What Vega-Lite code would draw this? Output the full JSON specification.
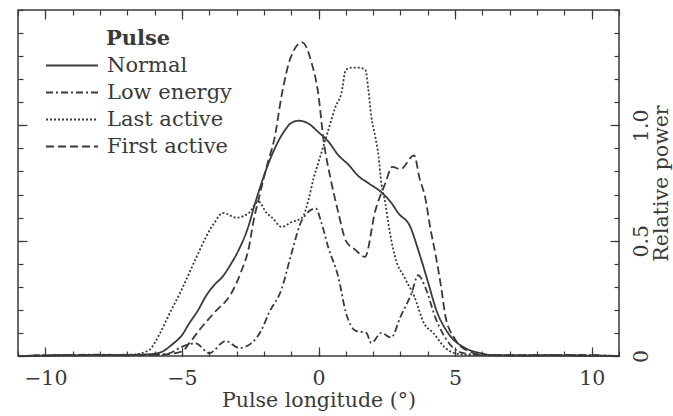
{
  "$schema": "https://vega.github.io/schema/vega-lite/v6.json",
  "width": 601,
  "height": 346,
  "autosize": {"type": "none"},
  "padding": {"left": 18, "top": 10, "right": 54, "bottom": 60},
  "background": "white",
  "config": {
    "view": {"stroke": "#3a3a3a", "strokeWidth": 1.5},
    "font": "DejaVu Serif",
    "axis": {
      "labelFont": "DejaVu Serif", "titleFont": "DejaVu Serif",
      "labelFontSize": 20.5, "titleFontSize": 20.5,
      "labelColor": "#3a3a3a", "titleColor": "#3a3a3a",
      "tickColor": "#3a3a3a", "tickWidth": 1.2,
      "grid": false, "domain": false, "titleFontWeight": "normal"
    },
    "legend": {
      "labelFont": "DejaVu Serif", "titleFont": "DejaVu Serif",
      "labelFontSize": 21, "titleFontSize": 21,
      "labelColor": "#3a3a3a", "titleColor": "#3a3a3a"
    }
  },
  "data": {"values": [
    {"pulse": "Normal", "x": -11, "y": 0},
    {"pulse": "Normal", "x": -9, "y": 0.003},
    {"pulse": "Normal", "x": -7.5, "y": 0.004},
    {"pulse": "Normal", "x": -6.5, "y": 0.006},
    {"pulse": "Normal", "x": -6.0, "y": 0.01},
    {"pulse": "Normal", "x": -5.7, "y": 0.02},
    {"pulse": "Normal", "x": -5.36, "y": 0.05},
    {"pulse": "Normal", "x": -5.0, "y": 0.09},
    {"pulse": "Normal", "x": -4.74, "y": 0.14},
    {"pulse": "Normal", "x": -4.4, "y": 0.2},
    {"pulse": "Normal", "x": -4.12, "y": 0.26},
    {"pulse": "Normal", "x": -3.8, "y": 0.31},
    {"pulse": "Normal", "x": -3.54, "y": 0.34},
    {"pulse": "Normal", "x": -3.2, "y": 0.4},
    {"pulse": "Normal", "x": -2.92, "y": 0.46},
    {"pulse": "Normal", "x": -2.6, "y": 0.55},
    {"pulse": "Normal", "x": -2.3, "y": 0.67},
    {"pulse": "Normal", "x": -2.0, "y": 0.78},
    {"pulse": "Normal", "x": -1.6, "y": 0.9},
    {"pulse": "Normal", "x": -1.28, "y": 0.97},
    {"pulse": "Normal", "x": -1.0, "y": 1.01},
    {"pulse": "Normal", "x": -0.73, "y": 1.02},
    {"pulse": "Normal", "x": -0.4, "y": 1.01},
    {"pulse": "Normal", "x": 0, "y": 0.97},
    {"pulse": "Normal", "x": 0.36, "y": 0.93},
    {"pulse": "Normal", "x": 0.73, "y": 0.87},
    {"pulse": "Normal", "x": 1.09, "y": 0.83},
    {"pulse": "Normal", "x": 1.46, "y": 0.78},
    {"pulse": "Normal", "x": 1.82, "y": 0.75},
    {"pulse": "Normal", "x": 2.3, "y": 0.71},
    {"pulse": "Normal", "x": 2.66, "y": 0.665},
    {"pulse": "Normal", "x": 2.92, "y": 0.62},
    {"pulse": "Normal", "x": 3.36, "y": 0.56},
    {"pulse": "Normal", "x": 3.65, "y": 0.46},
    {"pulse": "Normal", "x": 4.01, "y": 0.32},
    {"pulse": "Normal", "x": 4.31, "y": 0.2},
    {"pulse": "Normal", "x": 4.74, "y": 0.1},
    {"pulse": "Normal", "x": 5.36, "y": 0.035},
    {"pulse": "Normal", "x": 5.95, "y": 0.012},
    {"pulse": "Normal", "x": 6.4, "y": 0.003},
    {"pulse": "Normal", "x": 8, "y": 0.002},
    {"pulse": "Normal", "x": 11, "y": 0},

    {"pulse": "Low energy", "x": -11, "y": 0},
    {"pulse": "Low energy", "x": -9.5, "y": 0.004},
    {"pulse": "Low energy", "x": -8, "y": 0.006},
    {"pulse": "Low energy", "x": -7, "y": 0.003},
    {"pulse": "Low energy", "x": -6, "y": 0.005},
    {"pulse": "Low energy", "x": -5.5, "y": 0.01},
    {"pulse": "Low energy", "x": -5.0, "y": 0.04},
    {"pulse": "Low energy", "x": -4.5, "y": 0.055},
    {"pulse": "Low energy", "x": -4.0, "y": 0.012},
    {"pulse": "Low energy", "x": -3.4, "y": 0.065},
    {"pulse": "Low energy", "x": -2.9, "y": 0.035},
    {"pulse": "Low energy", "x": -2.45, "y": 0.056},
    {"pulse": "Low energy", "x": -2.1, "y": 0.11},
    {"pulse": "Low energy", "x": -1.8, "y": 0.19},
    {"pulse": "Low energy", "x": -1.35, "y": 0.29},
    {"pulse": "Low energy", "x": -1.0, "y": 0.44},
    {"pulse": "Low energy", "x": -0.6, "y": 0.59},
    {"pulse": "Low energy", "x": -0.1, "y": 0.64},
    {"pulse": "Low energy", "x": 0.1, "y": 0.58},
    {"pulse": "Low energy", "x": 0.36, "y": 0.47},
    {"pulse": "Low energy", "x": 0.73, "y": 0.34},
    {"pulse": "Low energy", "x": 1.0, "y": 0.19},
    {"pulse": "Low energy", "x": 1.35, "y": 0.11},
    {"pulse": "Low energy", "x": 1.75, "y": 0.1},
    {"pulse": "Low energy", "x": 1.93, "y": 0.056},
    {"pulse": "Low energy", "x": 2.3, "y": 0.1},
    {"pulse": "Low energy", "x": 2.66, "y": 0.08},
    {"pulse": "Low energy", "x": 3.0, "y": 0.17},
    {"pulse": "Low energy", "x": 3.4, "y": 0.27},
    {"pulse": "Low energy", "x": 3.65, "y": 0.35},
    {"pulse": "Low energy", "x": 3.9, "y": 0.3},
    {"pulse": "Low energy", "x": 4.3, "y": 0.16},
    {"pulse": "Low energy", "x": 4.75, "y": 0.06},
    {"pulse": "Low energy", "x": 5.3, "y": 0.012},
    {"pulse": "Low energy", "x": 6, "y": 0.004},
    {"pulse": "Low energy", "x": 7.5, "y": 0.003},
    {"pulse": "Low energy", "x": 9, "y": 0.005},
    {"pulse": "Low energy", "x": 11, "y": 0},

    {"pulse": "Last active", "x": -11, "y": 0},
    {"pulse": "Last active", "x": -9, "y": 0.003},
    {"pulse": "Last active", "x": -7.5, "y": 0.005},
    {"pulse": "Last active", "x": -6.8, "y": 0.006},
    {"pulse": "Last active", "x": -6.2, "y": 0.026},
    {"pulse": "Last active", "x": -5.84, "y": 0.09},
    {"pulse": "Last active", "x": -5.47, "y": 0.18},
    {"pulse": "Last active", "x": -5.0, "y": 0.29},
    {"pulse": "Last active", "x": -4.5, "y": 0.42},
    {"pulse": "Last active", "x": -4.1, "y": 0.52},
    {"pulse": "Last active", "x": -3.8, "y": 0.58},
    {"pulse": "Last active", "x": -3.5, "y": 0.62},
    {"pulse": "Last active", "x": -3.0, "y": 0.6},
    {"pulse": "Last active", "x": -2.55, "y": 0.62},
    {"pulse": "Last active", "x": -2.2, "y": 0.67},
    {"pulse": "Last active", "x": -1.9, "y": 0.62},
    {"pulse": "Last active", "x": -1.7, "y": 0.6},
    {"pulse": "Last active", "x": -1.35, "y": 0.56},
    {"pulse": "Last active", "x": -1.0, "y": 0.58},
    {"pulse": "Last active", "x": -0.6, "y": 0.6},
    {"pulse": "Last active", "x": -0.36, "y": 0.68},
    {"pulse": "Last active", "x": -0.18, "y": 0.77},
    {"pulse": "Last active", "x": 0, "y": 0.84},
    {"pulse": "Last active", "x": 0.36, "y": 0.98},
    {"pulse": "Last active", "x": 0.62, "y": 1.08},
    {"pulse": "Last active", "x": 0.84, "y": 1.14},
    {"pulse": "Last active", "x": 1.0, "y": 1.24},
    {"pulse": "Last active", "x": 1.2, "y": 1.25},
    {"pulse": "Last active", "x": 1.46, "y": 1.25},
    {"pulse": "Last active", "x": 1.72, "y": 1.24},
    {"pulse": "Last active", "x": 1.82, "y": 1.16},
    {"pulse": "Last active", "x": 1.93, "y": 1.04},
    {"pulse": "Last active", "x": 2.08, "y": 0.95},
    {"pulse": "Last active", "x": 2.2, "y": 0.865},
    {"pulse": "Last active", "x": 2.3, "y": 0.75},
    {"pulse": "Last active", "x": 2.45, "y": 0.66},
    {"pulse": "Last active", "x": 2.55, "y": 0.58},
    {"pulse": "Last active", "x": 2.8, "y": 0.43},
    {"pulse": "Last active", "x": 3.15, "y": 0.34},
    {"pulse": "Last active", "x": 3.5, "y": 0.26},
    {"pulse": "Last active", "x": 3.87, "y": 0.14},
    {"pulse": "Last active", "x": 4.2, "y": 0.1},
    {"pulse": "Last active", "x": 4.6, "y": 0.04},
    {"pulse": "Last active", "x": 4.96, "y": 0.013},
    {"pulse": "Last active", "x": 5.5, "y": 0.004},
    {"pulse": "Last active", "x": 7, "y": 0.003},
    {"pulse": "Last active", "x": 9, "y": 0.004},
    {"pulse": "Last active", "x": 11, "y": 0},

    {"pulse": "First active", "x": -11, "y": 0},
    {"pulse": "First active", "x": -9, "y": 0.004},
    {"pulse": "First active", "x": -7.5, "y": 0.003},
    {"pulse": "First active", "x": -6.5, "y": 0.004},
    {"pulse": "First active", "x": -6, "y": 0.004},
    {"pulse": "First active", "x": -5.5, "y": 0.008},
    {"pulse": "First active", "x": -5.0, "y": 0.02},
    {"pulse": "First active", "x": -4.7, "y": 0.06},
    {"pulse": "First active", "x": -4.38, "y": 0.11},
    {"pulse": "First active", "x": -3.8, "y": 0.19},
    {"pulse": "First active", "x": -3.2, "y": 0.27},
    {"pulse": "First active", "x": -2.85, "y": 0.36},
    {"pulse": "First active", "x": -2.55, "y": 0.47},
    {"pulse": "First active", "x": -2.37, "y": 0.59},
    {"pulse": "First active", "x": -2.19, "y": 0.68},
    {"pulse": "First active", "x": -1.9, "y": 0.82},
    {"pulse": "First active", "x": -1.6, "y": 0.95},
    {"pulse": "First active", "x": -1.35, "y": 1.13},
    {"pulse": "First active", "x": -1.0, "y": 1.3},
    {"pulse": "First active", "x": -0.6, "y": 1.36},
    {"pulse": "First active", "x": -0.25, "y": 1.27},
    {"pulse": "First active", "x": 0, "y": 1.13},
    {"pulse": "First active", "x": 0.18, "y": 0.94},
    {"pulse": "First active", "x": 0.44, "y": 0.77},
    {"pulse": "First active", "x": 0.73, "y": 0.62},
    {"pulse": "First active", "x": 1.0, "y": 0.5},
    {"pulse": "First active", "x": 1.35, "y": 0.46},
    {"pulse": "First active", "x": 1.7, "y": 0.43},
    {"pulse": "First active", "x": 2.08, "y": 0.63},
    {"pulse": "First active", "x": 2.45, "y": 0.75},
    {"pulse": "First active", "x": 2.7, "y": 0.82},
    {"pulse": "First active", "x": 3.0, "y": 0.81},
    {"pulse": "First active", "x": 3.5, "y": 0.87},
    {"pulse": "First active", "x": 3.7, "y": 0.77},
    {"pulse": "First active", "x": 3.9, "y": 0.69},
    {"pulse": "First active", "x": 4.1, "y": 0.55},
    {"pulse": "First active", "x": 4.3, "y": 0.43},
    {"pulse": "First active", "x": 4.5, "y": 0.29},
    {"pulse": "First active", "x": 4.65, "y": 0.17},
    {"pulse": "First active", "x": 4.96, "y": 0.08},
    {"pulse": "First active", "x": 5.4, "y": 0.026},
    {"pulse": "First active", "x": 6.0, "y": 0.006},
    {"pulse": "First active", "x": 7.5, "y": 0.003},
    {"pulse": "First active", "x": 9, "y": 0.004},
    {"pulse": "First active", "x": 11, "y": 0}
  ]},
  "layer": [
    {
      "mark": {"type": "line", "interpolate": "monotone", "strokeWidth": 1.8, "color": "#3a3a3a"},
      "encoding": {
        "x": {"field": "x", "type": "quantitative", "scale": {"domain": [-11, 11], "nice": false},
          "axis": {"orient": "bottom", "values": [-10, -5, 0, 5, 10], "tickSize": -9, "labelPadding": 37,
            "labelBaseline": "alphabetic", "title": "Pulse longitude (°)", "titleX": 300.5, "titleY": 50,
            "titleBaseline": "alphabetic", "titleAlign": "center"}},
        "y": {"field": "y", "type": "quantitative", "scale": {"domain": [0, 1.5], "nice": false},
          "axis": {"orient": "right", "values": [0, 0.5, 1], "tickSize": -9, "labelPadding": 37,
            "labelAngle": 270, "labelAlign": "center", "labelBaseline": "alphabetic",
            "labelExpr": "datum.value == 0 ? '0' : format(datum.value, '.1f')",
            "title": "Relative power", "titleAngle": 270, "titleX": 48, "titleY": 173,
            "titleBaseline": "alphabetic", "titleAlign": "center"}},
        "strokeDash": {"field": "pulse", "type": "nominal",
          "scale": {"domain": ["Normal", "Low energy", "Last active", "First active"],
            "range": [[1, 0], [7, 3, 2, 3], [2, 2], [8, 4]]},
          "legend": {"orient": "none", "legendX": 27, "legendY": 18, "title": "Pulse",
            "titleFontWeight": "bold", "titleAnchor": "middle", "titlePadding": 3,
            "symbolType": "stroke", "symbolSize": 2704, "symbolStrokeWidth": 1.8,
            "symbolStrokeColor": "#3a3a3a", "clipHeight": 27, "rowPadding": 0, "labelOffset": 8}}
      }
    },
    {
      "mark": {"type": "point", "opacity": 0},
      "encoding": {
        "x": {"field": "x", "type": "quantitative",
          "axis": {"orient": "bottom", "values": [-11,-10,-9,-8,-7,-6,-5,-4,-3,-2,-1,0,1,2,3,4,5,6,7,8,9,10,11], "tickSize": -5, "labels": false, "title": null}},
        "y": {"field": "y", "type": "quantitative",
          "axis": {"orient": "right", "values": [0,0.1,0.2,0.3,0.4,0.5,0.6,0.7,0.8,0.9,1,1.1,1.2,1.3,1.4,1.5], "tickSize": -5, "labels": false, "title": null}}
      }
    },
    {
      "mark": {"type": "point", "opacity": 0},
      "encoding": {
        "x": {"field": "x", "type": "quantitative",
          "axis": {"orient": "top", "values": [-10, -5, 0, 5, 10], "tickSize": -9, "labels": false, "title": null}},
        "y": {"field": "y", "type": "quantitative",
          "axis": {"orient": "left", "values": [0, 0.5, 1], "tickSize": -9, "labels": false, "title": null}}
      }
    },
    {
      "mark": {"type": "point", "opacity": 0},
      "encoding": {
        "x": {"field": "x", "type": "quantitative",
          "axis": {"orient": "top", "values": [-11,-10,-9,-8,-7,-6,-5,-4,-3,-2,-1,0,1,2,3,4,5,6,7,8,9,10,11], "tickSize": -5, "labels": false, "title": null}},
        "y": {"field": "y", "type": "quantitative",
          "axis": {"orient": "left", "values": [0,0.1,0.2,0.3,0.4,0.5,0.6,0.7,0.8,0.9,1,1.1,1.2,1.3,1.4,1.5], "tickSize": -5, "labels": false, "title": null}}
      }
    }
  ],
  "resolve": {"axis": {"x": "independent", "y": "independent"}}
}
